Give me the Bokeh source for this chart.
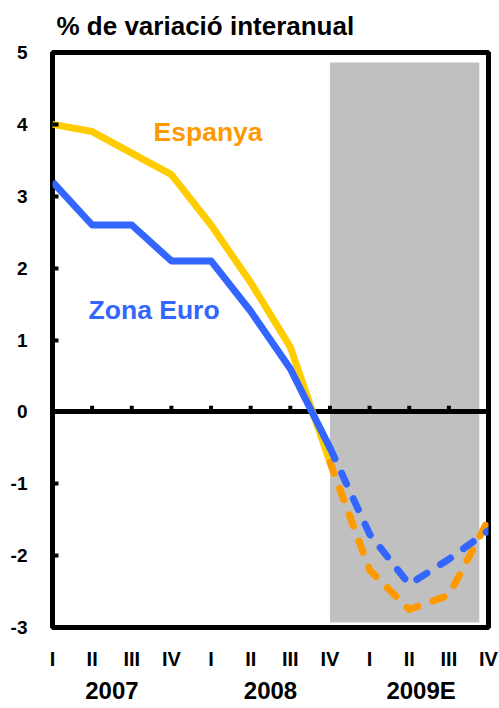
from bokeh.plotting import figure
from bokeh.models import LinearAxis, FixedTicker, Label, Range1d
from bokeh.embed import file_html
from bokeh.resources import INLINE

# ---- data ----
quarter_labels = ["I", "II", "III", "IV", "I", "II", "III", "IV", "I", "II", "III", "IV"]
years = ["2007", "2008", "2009E"]
quarters = list(range(len(quarter_labels)))

espanya_hist = [4.0, 3.9, 3.6, 3.3, 2.6, 1.8, 0.9, -0.7]
euro_hist = [3.2, 2.6, 2.6, 2.1, 2.1, 1.4, 0.6, -0.5]
espanya_prev = [-0.7, -2.2, -2.75, -2.55, -1.5]
euro_prev = [-0.5, -1.7, -2.4, -2.05, -1.65]
y_ticks = [-3, -2, -1, 0, 1, 2, 3, 4, 5]

FONT = "Liberation Sans"
YELLOW = "#FFCC00"
ORANGE = "#FF9900"
BLUE = "#3366FF"
GRAY = "#C0C0C0"

p = figure(width=499, height=708, x_range=Range1d(0, 11), y_range=Range1d(-3, 5),
           output_backend="svg", toolbar_location=None,
           min_border_left=52, min_border_right=11, min_border_top=52, min_border_bottom=81)
p.xgrid.visible = False
p.ygrid.visible = False
p.background_fill_color = "white"
p.border_fill_color = "white"
p.outline_line_color = "black"
p.outline_line_width = 5

# title
p.title.text = "% de variació interanual"
p.title.text_font = FONT
p.title.text_font_size = "26px"
p.title.text_font_style = "bold"
p.title.text_color = "black"
p.title.align = "left"
p.title.vertical_align = "top"
p.title.offset = 4
p.title.standoff = 19

# y axis
p.yaxis.ticker = FixedTicker(ticks=y_ticks)
p.yaxis.major_label_overrides = {t: str(t) for t in y_ticks}
p.yaxis.axis_line_color = None
p.yaxis.major_tick_in = 6
p.yaxis.major_tick_out = 0
p.yaxis.major_tick_line_width = 4
p.yaxis.minor_tick_line_color = None
p.yaxis.major_label_text_font = FONT
p.yaxis.major_label_text_font_size = "19px"
p.yaxis.major_label_text_font_style = "bold"
p.yaxis.major_label_text_color = "black"
p.yaxis.major_label_standoff = 25

# x axis (quarters)
p.xaxis.ticker = FixedTicker(ticks=quarters)
p.xaxis.major_label_overrides = {q: lab for q, lab in zip(quarters, quarter_labels)}
p.xaxis.axis_line_color = None
p.xaxis.major_tick_line_color = None
p.xaxis.major_tick_in = 0
p.xaxis.major_tick_out = 0
p.xaxis.minor_tick_line_color = None
p.xaxis.major_label_text_font = FONT
p.xaxis.major_label_text_font_size = "20px"
p.xaxis.major_label_text_font_style = "bold"
p.xaxis.major_label_text_color = "black"
p.xaxis.major_label_standoff = 20

# year axis
year_pos = [1.5, 5.5, 9.3]
yax = LinearAxis(ticker=FixedTicker(ticks=year_pos),
                 major_label_overrides={pos: y for pos, y in zip(year_pos, years)})
yax.axis_line_color = None
yax.major_tick_line_color = None
yax.major_tick_in = 0
yax.major_tick_out = 0
yax.minor_tick_line_color = None
yax.major_label_text_font = FONT
yax.major_label_text_font_size = "24px"
yax.major_label_text_font_style = "bold"
yax.major_label_text_color = "black"
yax.major_label_standoff = 4
p.add_layout(yax, "below")

# forecast shading
p.quad(left=7, right=10.77, top=4.86, bottom=-2.93, fill_color=GRAY, line_color=None)

# zero line with ticks
p.hspan(y=[0], line_color="black", line_width=5)
inner = quarters[1:-1]
p.segment(x0=inner, y0=[0] * len(inner), x1=inner, y1=[0.085] * len(inner),
          line_color="black", line_width=4)

# series
n_hist = len(espanya_hist)
p.line(quarters[:n_hist], espanya_hist, line_color=YELLOW, line_width=7, line_join="round")
p.line(quarters[n_hist - 1:], espanya_prev, line_color=ORANGE, line_width=7,
       line_dash="12 16", line_cap="round", line_join="round")
p.line(quarters[:n_hist], euro_hist, line_color=BLUE, line_width=7, line_join="round")
p.line(quarters[n_hist - 1:], euro_prev, line_color=BLUE, line_width=7,
       line_dash="12 16", line_cap="round", line_join="round")

p.add_layout(Label(x=2.55, y=3.9, text="Espanya", text_color=ORANGE, text_font=FONT,
                   text_font_size="26.5px", text_font_style="bold", text_baseline="middle"))
p.add_layout(Label(x=0.91, y=1.42, text="Zona Euro", text_color=BLUE, text_font=FONT,
                   text_font_size="26.5px", text_font_style="bold", text_baseline="middle"))

open("out.html", "w").write(file_html(p, INLINE))
